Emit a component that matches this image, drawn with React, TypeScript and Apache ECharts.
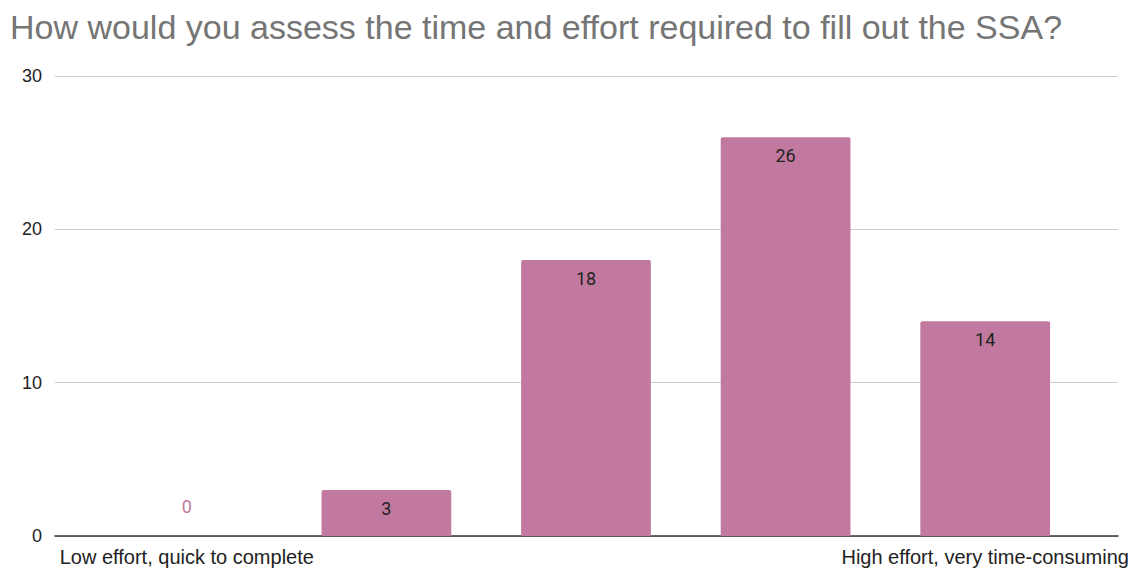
import React, { useEffect, useRef } from "react";
import * as echarts from "echarts";

const TITLE = "How would you assess the time and effort required to fill out the SSA?";
const categories = [
  "Low effort, quick to complete",
  "",
  "",
  "",
  "High effort, very time-consuming",
];
const counts = [0, 3, 18, 26, 14];
const yTicks = { min: 0, max: 30, interval: 10 };

const BAR_COLOR = "#c2799f";

export default function App() {
  const ref = useRef<HTMLDivElement>(null);

  useEffect(() => {
    if (!ref.current) return;
    const chart = echarts.init(ref.current, null, { renderer: "svg" });
    const sans = "'Liberation Sans', Arial, sans-serif";
    const roboto = "Roboto, Arial, sans-serif";

    chart.setOption({
      animation: false,
      backgroundColor: "#ffffff",
      title: {
        text: TITLE,
        left: 5,
        top: 5,
        textStyle: {
          fontFamily: sans,
          fontSize: 34,
          fontWeight: "normal",
          color: "#757575",
        },
      },
      grid: [
        { left: 55, right: 25, top: 76, bottom: 33, outerBoundsMode: "none" },
        { left: 87, right: 58, top: 76, bottom: 33, outerBoundsMode: "none" },
      ],
      xAxis: [
        {
          gridIndex: 0,
          type: "value",
          min: 0,
          max: 1,
          axisLabel: { show: false },
          axisTick: { show: false },
          splitLine: { show: false },
          axisLine: { show: true, lineStyle: { color: "#333333", width: 1.5 } },
          z: 1,
        },
        {
          gridIndex: 1,
          type: "category",
          data: categories,
          axisLine: { show: false },
          axisTick: { show: false },
          axisLabel: {
            interval: 0,
            margin: 11,
            fontFamily: sans,
            fontSize: 20,
            color: "#222222",
            overflow: "none",
            hideOverlap: false,
          },
        },
      ],
      yAxis: [
        {
          gridIndex: 0,
          type: "value",
          ...yTicks,
          axisLine: { show: false },
          axisTick: { show: false },
          axisLabel: {
            margin: 13,
            fontFamily: sans,
            fontSize: 18,
            color: "#222222",
          },
          splitLine: { lineStyle: { color: "#cccccc", width: 1 } },
        },
        {
          gridIndex: 1,
          type: "value",
          ...yTicks,
          show: false,
          splitLine: { show: false },
        },
      ],
      series: [
        {
          type: "bar",
          xAxisIndex: 1,
          yAxisIndex: 1,
          barCategoryGap: "35%",
          z: 3,
          itemStyle: { color: BAR_COLOR, borderRadius: [2, 2, 0, 0] },
          label: {
            show: true,
            position: "insideTop",
            distance: 9,
            fontFamily: roboto,
            fontSize: 18,
            color: "#222222",
          },
          data: counts.map((v) =>
            v === 0
              ? {
                  value: v,
                  label: { position: "top", distance: 21, color: BAR_COLOR },
                }
              : v
          ),
        },
      ],
    });

    return () => chart.dispose();
  }, []);

  return (
    <div
      ref={ref}
      style={{ position: "absolute", left: 0, top: 0, width: 1143, height: 569 }}
    />
  );
}
